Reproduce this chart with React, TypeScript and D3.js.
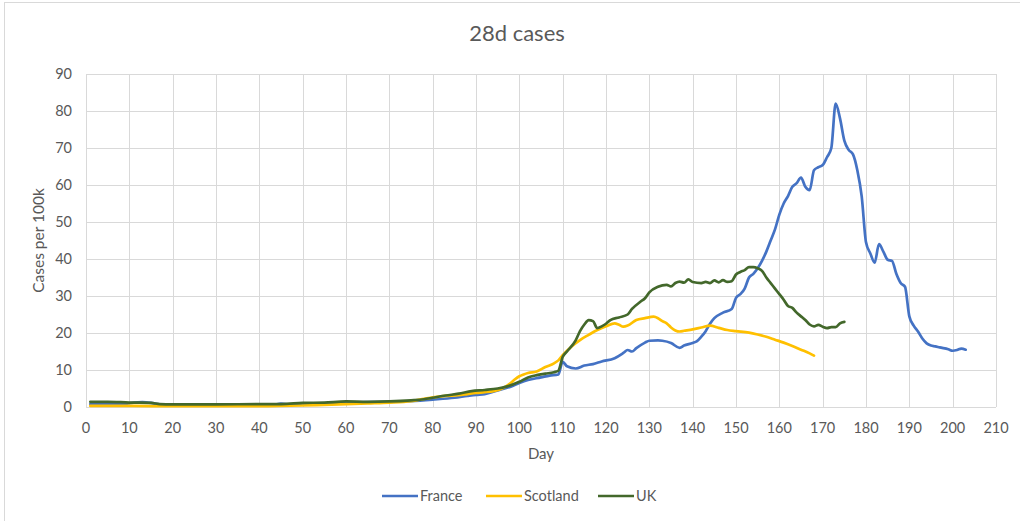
import React from 'react';
import * as d3 from 'd3';

const franceDays = [1, 5, 9, 11, 13, 15, 17, 20, 25, 30, 35, 40, 43, 45, 47, 50, 55, 60, 65, 70, 75, 80, 85, 88, 90, 92, 95, 98, 100, 102, 105, 107, 109, 110, 111, 113, 115, 117, 119, 122, 124, 125, 126, 127, 129, 130, 132, 133, 135, 137, 138, 140, 141, 142, 143, 144, 145, 147, 149, 150, 151, 152, 153, 154, 155, 156, 157, 158, 159, 160, 161, 162, 163, 164, 165, 166, 167, 168, 169, 170, 171, 172, 173, 174, 175, 176, 177, 178, 179, 180, 181, 182, 183, 184, 185, 186, 187, 188, 189, 190, 191, 192, 193, 194, 195, 196, 197, 199, 200, 201, 202, 203];
const franceValues = [0.8, 0.8, 0.9, 1.2, 1.3, 1.1, 0.7, 0.5, 0.5, 0.5, 0.5, 0.6, 0.6, 0.9, 0.7, 1.0, 1.0, 1.2, 1.3, 1.4, 1.6, 2.0, 2.5, 3.0, 3.3, 3.5, 4.5, 5.5, 6.5, 7.3, 8.0, 8.5, 8.8, 12.2, 11.0, 10.4, 11.2, 11.6, 12.3, 13.2, 14.6, 15.4, 15.0, 15.9, 17.4, 17.9, 18.0, 17.9, 17.3, 16.0, 16.6, 17.3, 17.8, 19.0, 20.5, 22.5, 24.0, 25.5, 26.5, 29.5, 30.5, 32.0, 35.0, 36.0, 37.5, 39.5, 42.0, 45.0, 48.0, 52.0, 55.0, 57.0, 59.5, 60.5, 62.0, 59.5, 58.6, 64.0, 64.8, 65.4, 67.5, 70.0, 82.0, 78.0, 72.0, 69.5, 68.3, 64.0, 57.0, 44.5, 41.5, 39.0, 44.0, 42.0, 39.8, 39.5, 36.0, 33.5, 32.5, 24.5, 22.0, 20.4, 18.5, 17.2, 16.6, 16.4, 16.1, 15.6, 15.2, 15.4, 15.8, 15.5];

const scotlandDays = [1, 10, 20, 30, 40, 50, 55, 60, 65, 70, 75, 78, 80, 83, 86, 88, 90, 92, 94, 96, 98, 99, 100, 101, 102, 104, 106, 108, 109, 110, 112, 114, 116, 118, 120, 122, 123, 124, 125, 127, 129, 131, 132, 133, 134, 135, 136, 137, 138, 140, 142, 144, 146, 148, 150, 153, 155, 157, 159, 161, 163, 165, 167, 168];
const scotlandValues = [0.3, 0.3, 0.2, 0.2, 0.2, 0.4, 0.6, 0.8, 1.0, 1.2, 1.6, 2.2, 2.6, 3.0, 3.2, 3.5, 3.8, 4.0, 4.3, 5.0, 6.5, 7.5, 8.3, 8.8, 9.2, 9.6, 10.8, 11.8, 12.6, 14.0, 16.3, 18.1, 19.5, 20.8, 21.8, 22.6, 22.2, 21.7, 22.0, 23.5, 24.0, 24.4, 24.0, 23.2, 22.6, 21.5, 20.7, 20.4, 20.6, 21.0, 21.5, 22.0, 21.4, 20.8, 20.5, 20.1, 19.6, 19.0, 18.2, 17.4, 16.5, 15.5, 14.5, 13.9];

const ukDays = [1, 5, 10, 15, 17, 20, 30, 40, 45, 50, 55, 60, 65, 70, 75, 78, 80, 83, 86, 89, 92, 95, 97, 100, 102, 104, 106, 108, 109, 110, 111, 113, 114, 115, 116, 117, 118, 119, 120, 121, 123, 125, 126, 128, 129, 130, 132, 134, 135, 136, 137, 138, 139, 140, 142, 143, 144, 145, 146, 147, 148, 149, 150, 151, 152, 153, 154, 155, 156, 157, 158, 159, 160, 161, 162, 163, 164, 165, 166, 167, 168, 169, 170, 171, 172, 173, 174, 175];
const ukValues = [1.4, 1.4, 1.2, 1.1, 0.8, 0.7, 0.7, 0.8, 0.8, 1.1, 1.2, 1.5, 1.4, 1.5, 1.8, 2.1, 2.5, 3.1, 3.6, 4.3, 4.6, 5.0, 5.5, 6.8, 8.0, 8.6, 9.0, 9.4, 9.8, 13.5, 15.0, 18.0, 20.5, 22.3, 23.5, 23.2, 21.3, 21.8, 22.5, 23.5, 24.2, 25.0, 26.5, 28.5, 29.4, 31.0, 32.5, 33.0, 32.6, 33.5, 33.9, 33.6, 34.5, 33.8, 33.5, 33.8, 33.5, 34.2, 33.7, 34.3, 33.8, 34.0, 35.8, 36.5, 37.0, 37.8, 37.8, 37.5, 36.8, 35.0, 33.5, 32.0, 30.5, 29.0, 27.3, 26.8, 25.5, 24.5, 23.5, 22.3, 21.8, 22.2, 21.7, 21.3, 21.6, 21.6, 22.6, 23.0];

const seriesNames = ['France', 'Scotland', 'UK'];
const seriesColors = ['#4472c4', '#ffc000', '#43682b'];
const xTicks = d3.range(0, 211, 10);
const yTicks = d3.range(0, 91, 10);

const W = 1020;
const H = 521;
const margin = { left: 86, right: 24, top: 74, bottom: 114 };
const FONT = 'Lato, "Open Sans", sans-serif';
const TXT = '#595959';

export default function App() {
  const x = d3.scaleLinear().domain([0, 210]).range([margin.left, W - margin.right]);
  const y = d3.scaleLinear().domain([0, 90]).range([H - margin.bottom, margin.top]);

  const line = d3.line<[number, number]>()
    .x(d => x(d[0]))
    .y(d => y(d[1]))
    .curve(d3.curveMonotoneX);

  const series = [
    d3.zip(franceDays, franceValues) as [number, number][],
    d3.zip(scotlandDays, scotlandValues) as [number, number][],
    d3.zip(ukDays, ukValues) as [number, number][],
  ];

  // legend positions (line start x)
  const legendX = [382, 486, 598];

  return (
    <svg width={W} height={H} style={{ position: 'absolute', left: 0, top: 0, background: '#fff' }}>
      <rect x={4.5} y={2.5} width={W + 10} height={H + 10} fill="#fff" stroke="#d9d9d9" />
      <text x={517} y={41} textAnchor="middle" fontFamily={FONT} fontSize={22} fill={TXT}>28d cases</text>

      {yTicks.map(t => (
        <g key={'y' + t}>
          <line x1={x(0)} x2={x(210)} y1={Math.round(y(t)) + 0.5} y2={Math.round(y(t)) + 0.5} stroke="#d9d9d9" />
          <text x={72} y={y(t)} dy="0.35em" textAnchor="end" fontFamily={FONT} fontSize={14.5} fill={TXT}>{t}</text>
        </g>
      ))}
      {xTicks.map(t => (
        <g key={'x' + t}>
          <line x1={Math.round(x(t)) + 0.5} x2={Math.round(x(t)) + 0.5} y1={y(90)} y2={y(0)} stroke="#d9d9d9" />
          <text x={x(t)} y={433} textAnchor="middle" fontFamily={FONT} fontSize={14.5} fill={TXT}>{t}</text>
        </g>
      ))}

      <text x={541} y={459} textAnchor="middle" fontFamily={FONT} fontSize={15} fill={TXT}>Day</text>
      <text transform={`translate(44,${(y(0) + y(90)) / 2}) rotate(-90)`} textAnchor="middle" fontFamily={FONT} fontSize={15.5} fill={TXT}>Cases per 100k</text>

      {series.map((s, i) => (
        <path key={seriesNames[i]} d={line(s) || ''} fill="none" stroke={seriesColors[i]} strokeWidth={2.7} strokeLinejoin="round" strokeLinecap="round" />
      ))}

      {seriesNames.map((name, i) => (
        <g key={'lg' + name}>
          <line x1={legendX[i]} x2={legendX[i] + 36} y1={496} y2={496} stroke={seriesColors[i]} strokeWidth={2.7} />
          <text x={legendX[i] + 38} y={496} dy="0.35em" fontFamily={FONT} fontSize={14.5} fill={TXT}>{name}</text>
        </g>
      ))}
    </svg>
  );
}
